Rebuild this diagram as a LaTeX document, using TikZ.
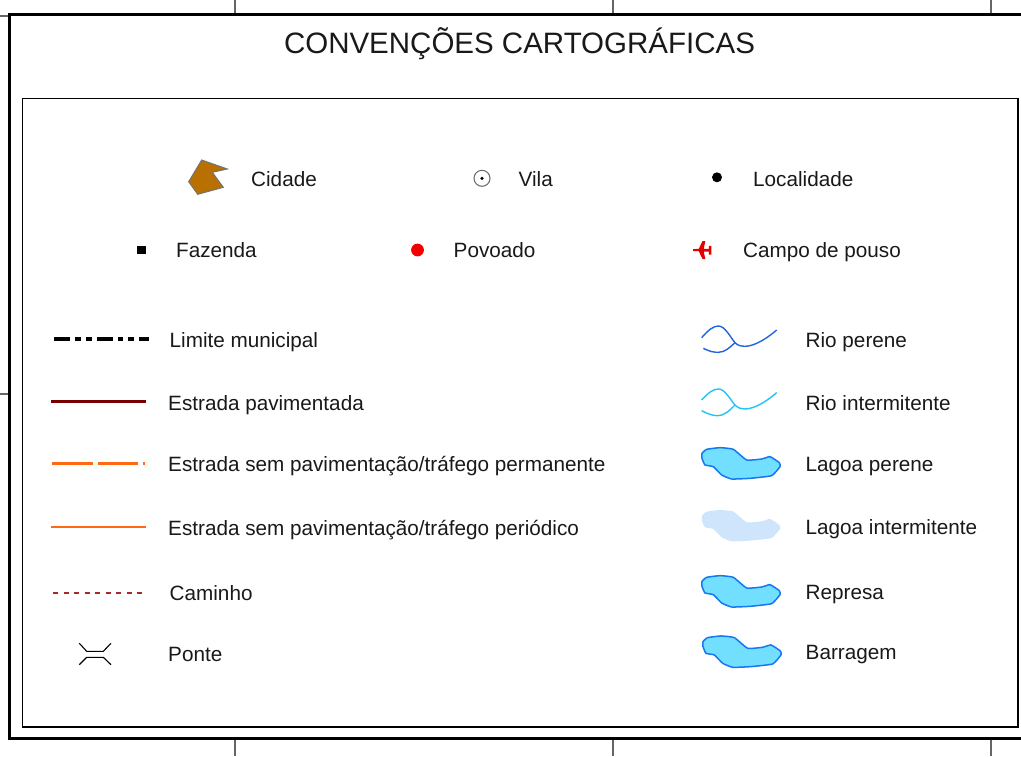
\documentclass[tikz,border=0pt]{standalone}
\usepackage{fontspec}
\setmainfont{Liberation Sans}
\definecolor{cityfill}{HTML}{B87000}
\definecolor{rioA}{HTML}{1F66E0}
\definecolor{rioB}{HTML}{22C4F5}
\definecolor{lakeedge}{HTML}{1478F0}
\definecolor{lakefill}{HTML}{73DFFF}
\definecolor{lakepale}{HTML}{CFE5FC}
\definecolor{roadred}{HTML}{780000}
\definecolor{roadorange}{HTML}{FF6A10}
\definecolor{trackred}{HTML}{A52A2A}
\newcommand{\lakepath}[1]{\path[#1] plot[smooth cycle,tension=0.25] coordinates {(36,400)(50,388)(90,383)(130,388)(170,420)(215,417)(240,410)(268,428)(270,440)(245,467)(180,475)(125,477)(95,465)(70,440)(45,435)(36,415)};}
\tikzset{
  lbl/.style={anchor=base west,inner sep=0pt,font=\fontsize{20.7}{24}\selectfont,text=black!90},
  framethick/.style={draw=black,line width=2.8pt},
  frameinner/.style={draw=black,line width=1.1pt},
  tick/.style={draw=black!60,line width=1.15pt},
  lakeA/.style={draw=lakeedge,fill=lakefill,line width=1.5pt},
  lakeB/.style={fill=lakepale},
}
\begin{document}
\begin{tikzpicture}[x=1pt,y=-1pt]
\useasboundingbox (0,0) rectangle (1021,756);
\fill[white] (0,0) rectangle (1021,756);
% ticks
\foreach \tx in {235,613,991}{
  \draw[tick] (\tx,0) -- (\tx,14);
  \draw[tick] (\tx,738) -- (\tx,756);
}
\draw[tick] (0,16) -- (9,16);
\draw[tick] (0,394) -- (9,394);
% frames
\draw[framethick] (1021,14.5) -- (9.5,14.5) -- (9.5,738.5) -- (1021,738.5);
\draw[frameinner] (22.5,98.5) rectangle (1018,727);
% title
\node[anchor=base,inner sep=0pt,font=\fontsize{29.5}{34}\selectfont,text=black!90] (title) at (519.5,53) {CONVENÇÕES CARTOGRÁFICAS};
% point symbols
\draw[draw=black!55,fill=cityfill,line width=1pt,line join=miter] (201.7,160) -- (227.3,169) -- (212.3,172.3) -- (223.3,187.3) -- (197.7,194.3) -- (188.7,181.7) -- cycle;
\node[lbl] (cidade) at (251,186) {Cidade};
\draw[black!60,line width=1pt] (482,178.3) circle (8);
\fill[black] (482,178.3) circle (1.8);
\node[lbl] (vila) at (518.5,186) {Vila};
\fill[black] (717,177.3) circle (5);
\node[lbl] (localidade) at (753,186) {Localidade};
\fill[black] (137,246) rectangle (145.7,254.3);
\node[lbl] (fazenda) at (176,257) {Fazenda};
\fill[red!95!black] (417.5,250) circle (6.4);
\node[lbl] (povoado) at (453.5,257) {Povoado};
\fill[red!90!black] (705.3,241) -- (702.5,241) -- (698.8,248.8) -- (693,249.2) -- (693,251) -- (698.8,251.2) -- (702.5,259) -- (705.3,259) -- (703.8,251.6) -- (708.8,251.6) -- (708.8,254.5) -- (711.3,254.5) -- (711.3,245.8) -- (708.8,245.8) -- (708.8,248.8) -- (703.8,248.8) -- cycle;
\node[lbl] (pouso) at (743,257) {Campo de pouso};
% line symbols
\draw[black,line width=3.8pt] (54.3,339.3) -- (70,339.3) (74.7,339.3) -- (81.3,339.3) (86,339.3) -- (91.7,339.3) (96.7,339.3) -- (113.3,339.3) (118.3,339.3) -- (123.3,339.3) (128.3,339.3) -- (133.7,339.3) (139,339.3) -- (149,339.3);
\node[lbl] (limite) at (169.5,347) {Limite municipal};
\draw[roadred,line width=2.7pt] (51,401.7) -- (146,401.7);
\node[lbl] (pav) at (168,410) {Estrada pavimentada};
\draw[roadorange,line width=2.8pt] (51.7,463.5) -- (93,463.5) (98,463.5) -- (137.7,463.5) (142.5,463.5) -- (145,463.5);
\node[lbl] (perm) at (168,471) {Estrada sem pavimentação/tráfego permanente};
\draw[roadorange,line width=1.7pt] (51,527) -- (146,527);
\node[lbl] (per) at (168,535) {Estrada sem pavimentação/tráfego periódico};
\draw[trackred,line width=1.6pt,dash pattern=on 5.3pt off 5.2pt] (53,592.7) -- (144.5,592.7);
\node[lbl] (caminho) at (169.5,600) {Caminho};
\draw[black,line width=1.1pt] (79.3,643.3) -- (86.7,651.3) -- (103.3,651.3) -- (111,643.3);
\draw[black,line width=1.1pt] (79.3,664.7) -- (86.7,657.3) -- (103.3,657.3) -- (111,664.7);
\node[lbl] (ponte) at (168,661) {Ponte};
% rivers
\begin{scope}[shift={(690,320)},x=0.3333pt,y=-0.3333pt]
\draw[rioA,line width=1.4pt] (35,53) .. controls (55,30) and (70,18) .. (85,18) .. controls (105,18) and (120,50) .. (135,68) .. controls (145,78) and (155,79) .. (165,79) .. controls (195,79) and (235,52) .. (260,30);
\draw[rioA,line width=1.4pt] (40,85) .. controls (60,95) and (72,97) .. (85,97) .. controls (105,97) and (120,82) .. (135,68);
\draw[rioB,line width=1.4pt] (35,240) .. controls (55,218) and (70,207) .. (85,207) .. controls (105,207) and (120,238) .. (135,255) .. controls (145,265) and (155,267) .. (165,267) .. controls (195,267) and (235,240) .. (260,218);
\draw[rioB,line width=1.4pt] (35,272) .. controls (55,283) and (70,287) .. (82,287) .. controls (105,287) and (120,270) .. (135,255);
\lakepath{lakeA}
\end{scope}
\node[lbl] (rioperene) at (805.5,347) {Rio perene};
\node[lbl] (riointer) at (805.5,410) {Rio intermitente};
\node[lbl] (lagper) at (805.5,471) {Lagoa perene};
\begin{scope}[shift={(690,382.3)},x=0.3333pt,y=-0.3333pt]
\lakepath{lakeB}
\end{scope}
\node[lbl] (lagint) at (805.5,534) {Lagoa intermitente};
\begin{scope}[shift={(690,448)},x=0.3333pt,y=-0.3333pt]
\lakepath{lakeA}
\end{scope}
\node[lbl] (represa) at (805.5,599) {Represa};
\begin{scope}[shift={(691,508.3)},x=0.3333pt,y=-0.3333pt]
\lakepath{lakeA}
\end{scope}
\node[lbl] (barragem) at (805.5,659) {Barragem};
\end{tikzpicture}
\end{document}
